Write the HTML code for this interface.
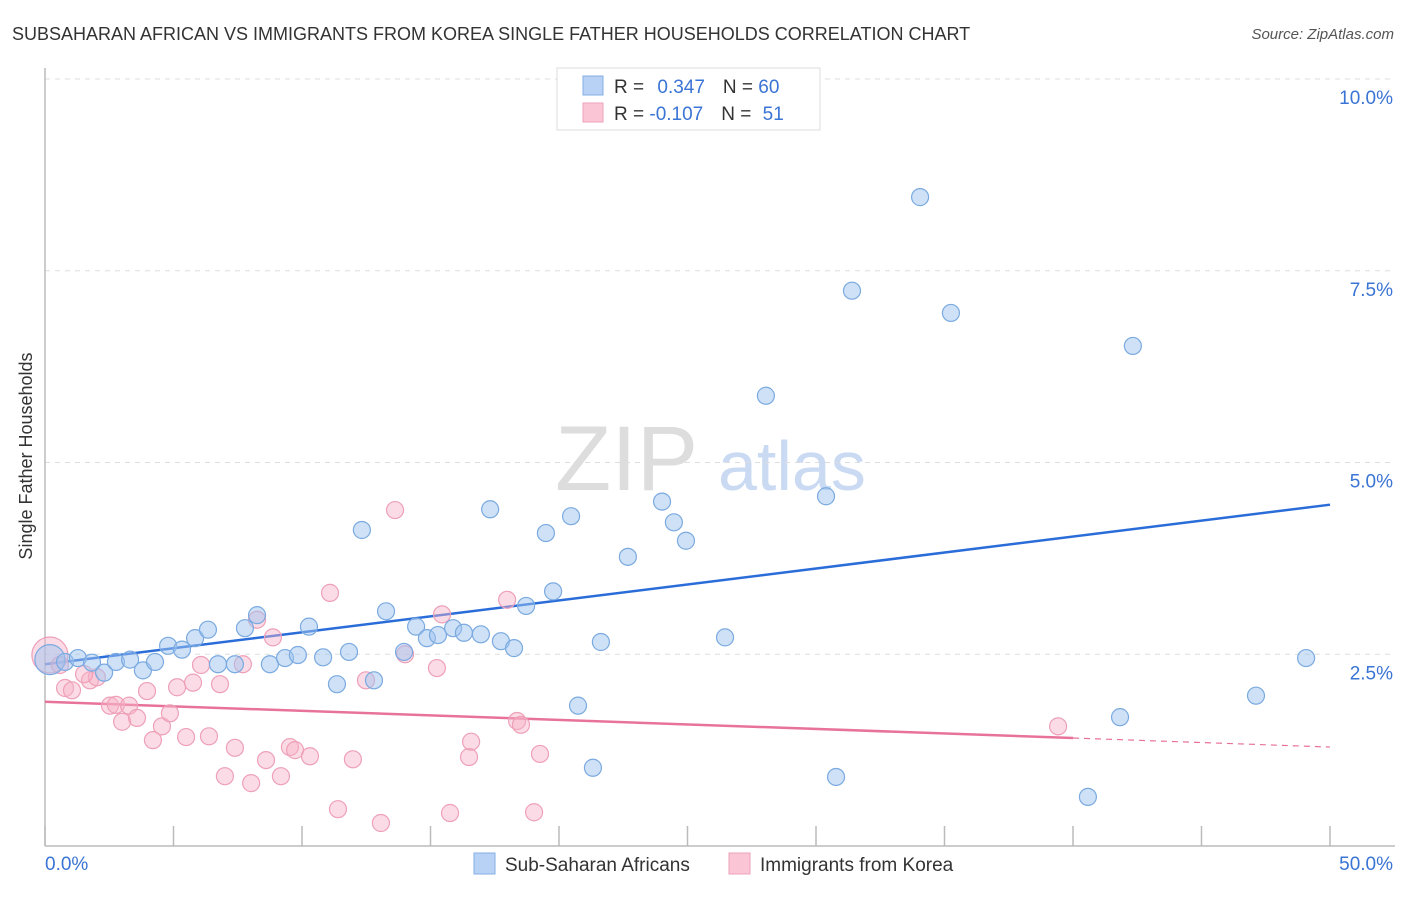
<!DOCTYPE html>
<html><head><meta charset="utf-8"><style>
body{margin:0;background:#fff;font-family:"Liberation Sans",sans-serif;}
svg text{font-family:"Liberation Sans",sans-serif;}
</style></head><body>
<svg id="chart" width="1406" height="892">
<text x="12" y="40" font-size="18" fill="#333">SUBSAHARAN AFRICAN VS IMMIGRANTS FROM KOREA SINGLE FATHER HOUSEHOLDS CORRELATION CHART</text>
<text x="1394" y="39" font-size="15" fill="#555" font-style="italic" text-anchor="end">Source: ZipAtlas.com</text>
<text x="32" y="456" font-size="18" fill="#333" text-anchor="middle" transform="rotate(-90 32 456)">Single Father Households</text>
<g><text x="555" y="490" font-size="92" fill="#ddd" font-family="Liberation Serif">ZIP</text><text x="718" y="490" font-size="70" fill="#c9daf2">atlas</text></g>
<g id="grid"></g><g id="axes"></g><g id="lines"></g><g id="pts"></g>
<g>
<rect x="557" y="68" width="263" height="62" fill="#fff" stroke="#ddd"/>
<rect x="583" y="76" width="20" height="19" fill="#b8d2f5" stroke="#85aee6"/>
<rect x="583" y="103" width="20" height="19" fill="#fac6d6" stroke="#eea0b8"/>
<text x="614" y="93" font-size="19" fill="#333">R = <tspan fill="#3a74d4" dx="8">0.347</tspan><tspan fill="#333" dx="18">N = </tspan><tspan fill="#3a74d4">60</tspan></text>
<text x="614" y="120" font-size="19" fill="#333">R = <tspan fill="#3a74d4">-0.107</tspan><tspan fill="#333" dx="18">N = </tspan><tspan fill="#3a74d4" dx="6">51</tspan></text>
</g>
<g>
<rect x="474" y="853" width="21" height="21" fill="#b8d2f5" stroke="#85aee6"/>
<text x="505" y="871" font-size="19" fill="#333">Sub-Saharan Africans</text>
<rect x="729" y="853" width="21" height="21" fill="#fac6d6" stroke="#eea0b8"/>
<text x="760" y="871" font-size="19" fill="#333">Immigrants from Korea</text>
</g>
<text x="45" y="870" font-size="19" fill="#3a74d4">0.0%</text>
<text x="1393" y="870" font-size="19" fill="#3a74d4" text-anchor="end">50.0%</text>
</svg>
<script>
const yTicks=[2.5,5,7.5,10];
const yTickLabels=["2.5%","5.0%","7.5%","10.0%"];
const xTicks=[0,5,10,15,20,25,30,35,40,45,50];
const blueX=[0.19,0.78,1.28,1.83,2.30,2.76,3.31,3.81,4.28,4.79,5.33,5.84,6.34,6.73,7.39,7.78,8.25,8.75,9.34,9.84,10.27,10.82,11.36,11.83,12.33,12.80,13.27,13.97,14.44,14.86,15.29,15.88,16.30,16.96,17.32,17.74,18.25,18.72,19.49,19.77,20.47,20.74,21.32,21.63,22.68,24.01,24.47,24.94,26.46,28.05,30.39,30.78,31.40,34.05,35.25,40.58,41.83,42.33,47.12,49.07];
const blueY=[2.43,2.40,2.45,2.39,2.26,2.40,2.43,2.29,2.40,2.61,2.56,2.71,2.82,2.37,2.37,2.84,3.01,2.37,2.45,2.49,2.86,2.46,2.11,2.53,4.12,2.16,3.06,2.53,2.86,2.71,2.75,2.84,2.78,2.76,4.39,2.67,2.58,3.13,4.08,3.32,4.30,1.83,1.02,2.66,3.77,4.49,4.22,3.98,2.72,5.87,4.56,0.90,7.24,8.46,6.95,0.64,1.68,6.52,1.96,2.45];
const pinkX=[0.19,0.78,0.58,1.05,1.75,2.02,2.53,2.76,3.00,3.27,3.58,3.97,4.20,4.55,4.86,5.14,5.49,5.76,6.07,6.38,6.81,7.00,7.39,7.70,8.02,8.25,8.60,8.87,9.18,9.53,9.73,10.31,11.09,11.40,11.98,12.49,13.07,13.62,14.01,15.25,15.45,15.76,16.50,16.58,17.98,18.37,18.52,19.03,19.26,39.42,1.52];
const pinkY=[2.49,2.06,2.36,2.03,2.16,2.20,1.83,1.84,1.62,1.83,1.67,2.02,1.38,1.56,1.73,2.07,1.42,2.13,2.36,1.43,2.11,0.91,1.28,2.37,0.82,2.95,1.12,2.72,0.91,1.29,1.25,1.17,3.30,0.48,1.13,2.16,0.30,4.38,2.50,2.32,3.02,0.43,1.16,1.36,3.21,1.63,1.58,0.44,1.20,1.56,2.24];
const blueTrend=[2.37,4.45];
const pinkTrend=[1.88,1.29];
const pinkSolidEnd=40;
const X=v=>45+v/50*1285, Y=v=>846-v/10*767;
const NS="http://www.w3.org/2000/svg";
function mk(p,t,a){const e=document.createElementNS(NS,t);for(const k in a)e.setAttribute(k,a[k]);document.getElementById(p).appendChild(e);return e;}
yTicks.forEach((t,i)=>{
 const g=mk('grid','line',{x1:45,x2:1395,y1:Y(t),y2:Y(t),stroke:'#ddd','stroke-dasharray':'5,5'});
 
 
 const l=mk('grid','text',{x:1393,y:Y(t)+25,'font-size':19,fill:'#3a74d4','text-anchor':'end'});
 l.textContent=yTickLabels[i];
 
 
});
const ax=mk('axes','line',{x1:45,x2:45,y1:68,y2:846,stroke:'#bbb','stroke-width':1.5});


const bx=mk('axes','line',{x1:45,x2:1395,y1:846,y2:846,stroke:'#bbb','stroke-width':1.5});


xTicks.forEach(t=>{const e=mk('axes','line',{x1:X(t),x2:X(t),y1:826,y2:846,stroke:'#bbb','stroke-width':1.5});
 
 });
function dots(xs,ys,fill,stroke,name,big){
 xs.forEach((x,i)=>{const c=mk('pts','circle',{cx:X(x),cy:Y(ys[i]),r:i===0?big:8.5,fill:fill,stroke:stroke,'stroke-width':1.2});
  
  });
}
dots(pinkX,pinkY,'rgba(246,178,200,0.45)','#eea0b8','pink-point',18);
dots(blueX,blueY,'rgba(160,196,240,0.5)','#7aaae0','blue-point',15);
const bl=mk('lines','line',{x1:X(0),y1:Y(blueTrend[0]),x2:X(50),y2:Y(blueTrend[1]),stroke:'#2a6dd9','stroke-width':2.5});


const pe=pinkTrend[0]+(pinkTrend[1]-pinkTrend[0])*pinkSolidEnd/50;
const pl=mk('lines','line',{x1:X(0),y1:Y(pinkTrend[0]),x2:X(pinkSolidEnd),y2:Y(pe),stroke:'#e8739a','stroke-width':2.5});


const pd=mk('lines','line',{x1:X(pinkSolidEnd),y1:Y(pe),x2:X(50),y2:Y(pinkTrend[1]),stroke:'#e8739a','stroke-width':1.2,'stroke-dasharray':'6,5'});


</script>
</body></html>
